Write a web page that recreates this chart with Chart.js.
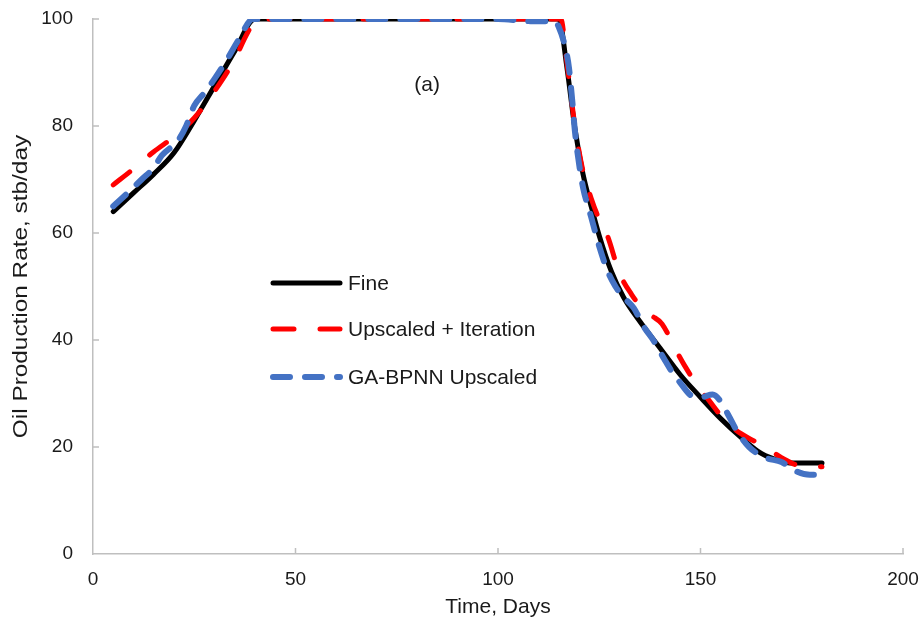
<!DOCTYPE html>
<html>
<head>
<meta charset="utf-8">
<script src="https://cdn.jsdelivr.net/npm/chart.js@4/dist/chart.umd.min.js"></script>
<style>
  html, body { margin: 0; padding: 0; background: #ffffff; }
  #wrap { width: 924px; height: 630px; }
</style>
</head>
<body>
<div id="wrap"><canvas id="c" width="924" height="630"></canvas></div>
<script>
// ---- data ----
const seriesNames = ['Fine', 'Upscaled + Iteration', 'GA-BPNN Upscaled'];

const fineDays = [5,10,15,20,25,30,35,40,50,60,70,80,90,100,110,115,117,119,121,123,125,128,131,135,140,145,150,155,160,165,170,172,176,180];
const fineRate = [64,67.5,71,75,81,87.5,94,100,100,100,100,100,100,100,100,100,91,79.5,71,65,59.5,52.8,48,43.5,38.5,33.5,29.3,25.3,21.8,18.8,17.3,17,17,17];

const upDays = [5,10,15,20,25,30,35,38,40.5,50,60,70,80,90,100,110,115.5,117,119,121,123,125,127,130,133,136,138,140.5,144,146,149.5,152,156,160,166,170,174,180];
const upRate = [69,72,75.2,78,81.5,86.5,92.5,97.2,100,100,100,100,100,100,100,100,100,92,80,71.5,66.5,62.5,59.5,52.5,48.5,45.6,44.5,43,38,35.3,31.2,28.8,25,22.5,20,18,16.6,16.3];

const gaDays = [5,8.6,12,15,17,21,23,25,27.5,30,33,36,39.5,50,60,70,80,90,100,108,114,115,116.5,117.5,118.3,119,120,121,123,125,127,129,131,133.5,136,138.5,141,143,145,148,150,153,155,157,159,162,166,170,173.5,177,180];
const gaRate = [65,67.5,70,72.2,74.5,77.3,80,83.8,86.2,88.8,92.3,96.2,100,100,100,100,100,100,100,99.6,99.6,98.5,95,91,85,79,73,68.5,63,57.5,53,50,48,46,42.5,39.8,36.5,34,32,29.5,29.3,29.8,28.5,25.8,23,20,18,17.2,15.5,14.8,14.8];

const xTicks = [0, 50, 100, 150, 200];
const yTicks = [0, 20, 40, 60, 80, 100];
const panelLabel = '(a)';
const xTitle = 'Time, Days';
const yTitle = 'Oil Production Rate, stb/day';

// ---- build chart ----
const toPts = (xs, ys) => xs.map((x, i) => ({ x: x, y: ys[i] }));
const FONT = "'Liberation Sans', Arial, sans-serif";
const TEXT = '#1a1a1a';
const AXIS = '#bfbfbf';

const legendPlugin = {
  id: 'innerLegend',
  afterDatasetsDraw(chart) {
    const ctx = chart.ctx;
    const rows = [283, 329, 377];
    const x1 = 273, x2 = 340, tx = 348;
    chart.data.datasets.forEach((ds, i) => {
      ctx.save();
      ctx.strokeStyle = ds.borderColor;
      ctx.lineWidth = ds.borderWidth;
      ctx.lineCap = ds.borderCapStyle || 'butt';
      ctx.setLineDash(ds.borderDash || []);
      ctx.beginPath();
      ctx.moveTo(x1, rows[i]);
      ctx.lineTo(x2, rows[i]);
      ctx.stroke();
      ctx.restore();
      ctx.save();
      ctx.fillStyle = TEXT;
      ctx.font = '21px ' + FONT;
      ctx.textBaseline = 'middle';
      ctx.textAlign = 'left';
      ctx.fillText(ds.label, tx, rows[i] + 1);
      ctx.restore();
    });
    const xs = chart.scales.x, ys = chart.scales.y;
    ctx.save();
    ctx.fillStyle = TEXT;
    ctx.font = '21px ' + FONT;
    ctx.textAlign = 'center';
    ctx.textBaseline = 'middle';
    ctx.fillText(panelLabel, xs.getPixelForValue(82.5), ys.getPixelForValue(87.6));
    ctx.restore();
    // y-axis title (slightly stretched along its length, as in the reference)
    const area = chart.chartArea;
    ctx.save();
    ctx.translate(21, (area.top + area.bottom) / 2);
    ctx.rotate(-Math.PI / 2);
    ctx.scale(1.16, 1);
    ctx.fillStyle = TEXT;
    ctx.font = '21px ' + FONT;
    ctx.textAlign = 'center';
    ctx.textBaseline = 'middle';
    ctx.fillText(yTitle, 0, 0);
    ctx.restore();
  }
};

const innerTicks = {
  id: 'innerTicks',
  afterDraw(chart) {
    const ctx = chart.ctx;
    const xs = chart.scales.x, ys = chart.scales.y;
    const area = chart.chartArea;
    ctx.save();
    ctx.strokeStyle = AXIS;
    ctx.lineWidth = 1.5;
    ctx.beginPath();
    xs.ticks.forEach(t => {
      if (t.value === 0) return;
      const p = xs.getPixelForValue(t.value);
      ctx.moveTo(p, area.bottom);
      ctx.lineTo(p, area.bottom - 6);
    });
    ys.ticks.forEach(t => {
      if (t.value === 0) return;
      const p = ys.getPixelForValue(t.value);
      ctx.moveTo(area.left, p);
      ctx.lineTo(area.left + 6, p);
    });
    ctx.stroke();
    ctx.restore();
  }
};

const common = { showLine: true, pointRadius: 0, pointHoverRadius: 0, fill: false, cubicInterpolationMode: 'monotone' };

new Chart(document.getElementById('c'), {
  type: 'scatter',
  data: {
    datasets: [
      Object.assign({}, common, {
        label: seriesNames[0], data: toPts(fineDays, fineRate),
        borderColor: '#000000', backgroundColor: '#000000', borderWidth: 5,
        borderCapStyle: 'round', borderJoinStyle: 'round', order: 2
      }),
      Object.assign({}, common, {
        label: seriesNames[1], data: toPts(upDays, upRate),
        borderColor: '#ff0000', backgroundColor: '#ff0000', borderWidth: 5,
        borderDash: [21, 26], borderCapStyle: 'round', borderJoinStyle: 'round', order: 1
      }),
      Object.assign({}, common, {
        label: seriesNames[2], data: toPts(gaDays, gaRate),
        borderColor: '#4472c4', backgroundColor: '#4472c4', borderWidth: 6,
        borderDash: [17, 15], borderCapStyle: 'round', borderJoinStyle: 'round', order: 0
      })
    ]
  },
  options: {
    responsive: false,
    animation: false,
    events: [],
    layout: { padding: { left: 0, top: 19, right: 21, bottom: 0 } },
    plugins: { legend: { display: false }, tooltip: { enabled: false } },
    scales: {
      x: {
        type: 'linear', min: 0, max: 200,
        afterBuildTicks: s => { s.ticks = xTicks.map(v => ({ value: v })); },
        afterFit: s => { s.height = 76; s.paddingLeft = 0; s.paddingRight = 0; },
        grid: { display: true, drawOnChartArea: false, drawTicks: false },
        border: { display: true, color: AXIS, width: 1.5 },
        ticks: { padding: 14, color: TEXT, font: { family: FONT, size: 19 }, maxRotation: 0 },
        title: { display: true, text: xTitle, color: TEXT, font: { family: FONT, size: 21 }, padding: { top: 0, bottom: 10 } }
      },
      y: {
        type: 'linear', min: 0, max: 100,
        afterBuildTicks: s => { s.ticks = yTicks.map(v => ({ value: v })); },
        afterFit: s => { s.width = 93; s.paddingTop = 0; s.paddingBottom = 0; },
        grid: { display: true, drawOnChartArea: false, drawTicks: false },
        border: { display: true, color: AXIS, width: 1.5 },
        ticks: { padding: 20, color: TEXT, font: { family: FONT, size: 19 } },
        title: { display: false }
      }
    }
  },
  plugins: [legendPlugin, innerTicks]
});
</script>
</body>
</html>
